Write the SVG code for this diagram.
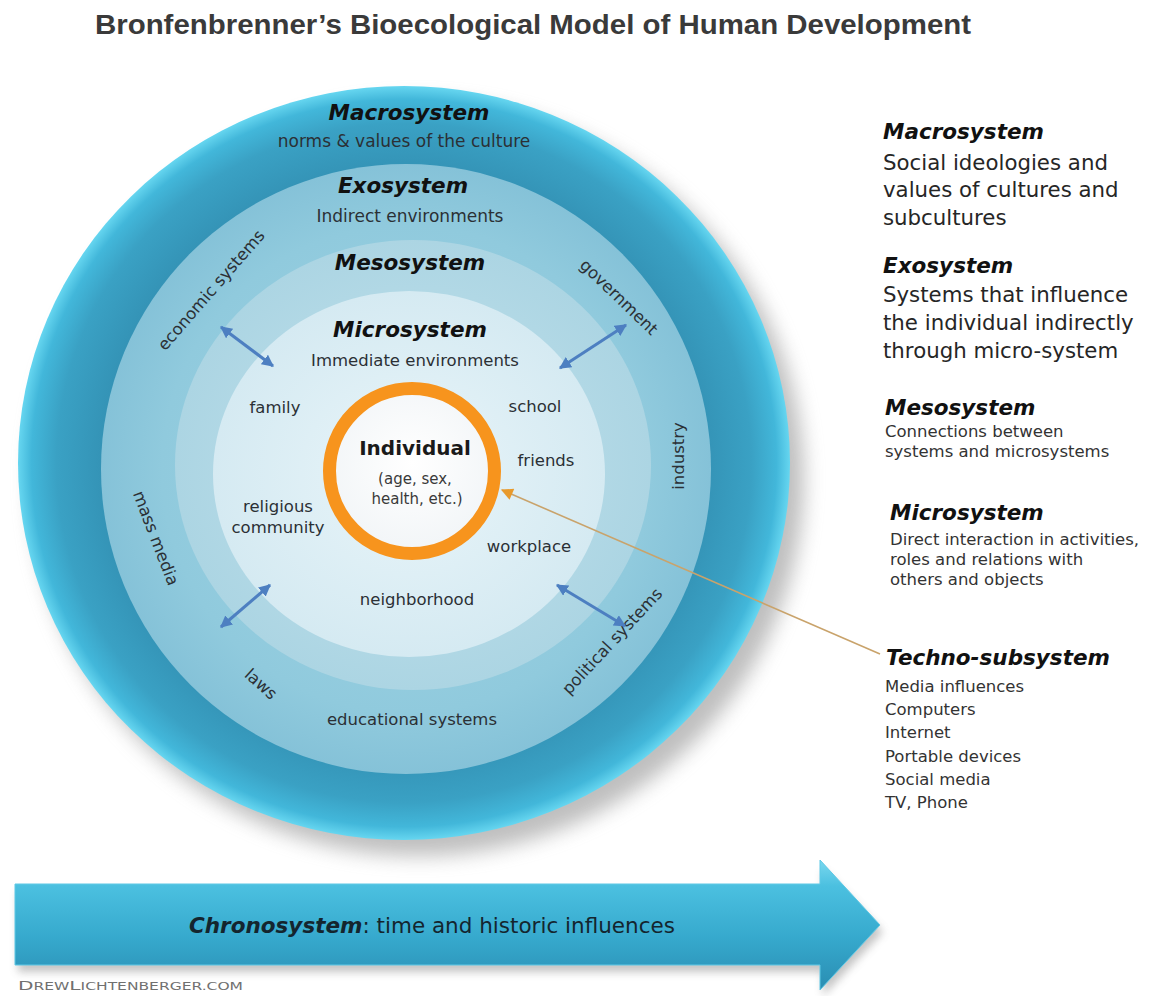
<svg xmlns="http://www.w3.org/2000/svg" width="1149" height="996" viewBox="0 0 1149 996">
  <defs>
    <style>
      .sans { font-family: "DejaVu Sans", Verdana, sans-serif; }
      .head { font-family: "DejaVu Sans", Verdana, sans-serif; font-weight: bold; font-style: italic; font-size: 21.5px; fill: #111; }
      .ring-label { font-family: "DejaVu Sans", Verdana, sans-serif; font-size: 16.5px; fill: #2b3035; text-anchor: middle; }
      .big { font-family: "DejaVu Sans", Verdana, sans-serif; font-size: 21.3px; fill: #262626; }
      .small { font-family: "DejaVu Sans", Verdana, sans-serif; font-size: 16.5px; fill: #333; }
      .mid { text-anchor: middle; }
      .link { stroke: #4d7fc1; stroke-width: 3; fill: none; marker-start: url(#headBlue); marker-end: url(#headBlue); }
    </style>
    <radialGradient id="gMacro" cx="0.5" cy="0.5" r="0.5">
      <stop offset="0.78" stop-color="#3493b6"/>
      <stop offset="0.9" stop-color="#3aa1c4"/>
      <stop offset="0.965" stop-color="#42b7da"/>
      <stop offset="1" stop-color="#66d6f0"/>
    </radialGradient>
    <radialGradient id="gExo" cx="0.5" cy="0.5" r="0.5">
      <stop offset="0" stop-color="#a3d6e5"/>
      <stop offset="0.8" stop-color="#90cadd"/>
      <stop offset="1" stop-color="#85c2d8"/>
    </radialGradient>
    <radialGradient id="gMeso" cx="0.5" cy="0.5" r="0.5">
      <stop offset="0" stop-color="#c4e3ed"/>
      <stop offset="1" stop-color="#acd5e3"/>
    </radialGradient>
    <radialGradient id="gMicro" cx="0.5" cy="0.5" r="0.5">
      <stop offset="0" stop-color="#e9f5f9"/>
      <stop offset="1" stop-color="#d5eaf2"/>
    </radialGradient>
    <radialGradient id="gCore" cx="0.5" cy="0.45" r="0.5">
      <stop offset="0" stop-color="#ffffff"/>
      <stop offset="1" stop-color="#f3f6f8"/>
    </radialGradient>
    <linearGradient id="gChrono" x1="0" y1="0" x2="0" y2="1">
      <stop offset="0" stop-color="#7ad8ef"/>
      <stop offset="0.2" stop-color="#4bc0e0"/>
      <stop offset="0.6" stop-color="#36a9cd"/>
      <stop offset="1" stop-color="#2a8db2"/>
    </linearGradient>
    <filter id="blur10" x="-20%" y="-20%" width="140%" height="140%">
      <feGaussianBlur stdDeviation="10"/>
    </filter>
    <filter id="blur4" x="-10%" y="-50%" width="120%" height="200%">
      <feGaussianBlur stdDeviation="4"/>
    </filter>
    <marker id="headBlue" viewBox="0 0 10 10" refX="9" refY="5" markerWidth="4" markerHeight="4" orient="auto-start-reverse">
      <path d="M0,0 L10,5 L0,10 z" fill="#4d7fc1"/>
    </marker>
    <marker id="headOrange" viewBox="0 0 10 10" refX="9" refY="5" markerUnits="userSpaceOnUse" markerWidth="13" markerHeight="12" orient="auto">
      <path d="M0,0 L10,5 L0,10 z" fill="#e89a2c"/>
    </marker>
  </defs>

  <rect width="1149" height="996" fill="#ffffff"/>

  <!-- title -->
  <text id="title" x="95" y="34" font-family="'Liberation Sans', Arial, sans-serif" font-weight="bold" font-size="27" fill="#3a3a3a" textLength="876" lengthAdjust="spacingAndGlyphs">Bronfenbrenner’s Bioecological Model of Human Development</text>

  <!-- nested system discs -->
  <g id="shadow">
    <ellipse cx="418" cy="479" rx="386" ry="377" fill="#8a8a8a" opacity="0.55" filter="url(#blur10)"/>
  </g>
  <g id="macrosystem">
    <ellipse cx="404" cy="463" rx="386" ry="377" fill="url(#gMacro)"/>
    <text class="head mid" x="409" y="120">Macrosystem</text>
    <text class="sans mid" x="404" y="147" font-size="17" fill="#2b3035">norms &amp; values of the culture</text>
  </g>
  <g id="exosystem">
    <circle cx="406" cy="469" r="305" fill="url(#gExo)"/>
    <text class="head mid" x="403" y="193">Exosystem</text>
    <text class="sans mid" x="410" y="222" font-size="17" fill="#2b3035">Indirect environments</text>
    <text class="ring-label" transform="translate(211,290) rotate(-49)" dy="0.35em">economic systems</text>
    <text class="ring-label" transform="translate(619,297) rotate(44)" dy="0.35em">government</text>
    <text class="ring-label" transform="translate(678,456) rotate(-90)" dy="0.35em">industry</text>
    <text class="ring-label" transform="translate(156,538) rotate(69)" dy="0.35em" font-size="17.5">mass media</text>
    <text class="ring-label" transform="translate(261,684) rotate(42)" dy="0.35em">laws</text>
    <text class="ring-label" transform="translate(612,641) rotate(-47)" dy="0.35em">political systems</text>
    <text class="ring-label" x="412" y="725">educational systems</text>
  </g>
  <g id="mesosystem">
    <ellipse cx="413" cy="465" rx="238" ry="225" fill="url(#gMeso)"/>
    <text class="head mid" x="410" y="270">Mesosystem</text>
  </g>
  <g id="microsystem">
    <ellipse cx="409" cy="474" rx="196" ry="183" fill="url(#gMicro)"/>
    <text class="head mid" x="410" y="337">Microsystem</text>
    <text class="sans mid" x="415" y="366" font-size="16.5" fill="#2b3035">Immediate environments</text>
    <text class="ring-label" x="275" y="413">family</text>
    <text class="ring-label" x="535" y="412">school</text>
    <text class="ring-label" x="546" y="466">friends</text>
    <text class="ring-label" x="278" y="512">religious</text>
    <text class="ring-label" x="278" y="533">community</text>
    <text class="ring-label" x="529" y="552">workplace</text>
    <text class="ring-label" x="417" y="605">neighborhood</text>
  </g>
  <g id="individual">
    <circle cx="412" cy="471" r="82.5" fill="url(#gCore)" stroke="#f7941d" stroke-width="13"/>
    <text class="sans mid" x="415" y="455" font-size="20" font-weight="bold" fill="#1a1a1a">Individual</text>
    <text class="sans mid" x="415" y="484" font-size="15" fill="#3a3a3a">(age, sex,</text>
    <text class="sans mid" x="417" y="504" font-size="15" fill="#3a3a3a">health, etc.)</text>
  </g>

  <!-- connectors -->
  <g id="connectors">
    <line class="link" x1="221" y1="327" x2="273" y2="366"/>
    <line class="link" x1="560" y1="368" x2="626" y2="325"/>
    <line class="link" x1="221" y1="627" x2="270" y2="585"/>
    <line class="link" x1="557" y1="585" x2="625" y2="626"/>
    <line x1="880" y1="654" x2="502" y2="490" stroke="#c9a36b" stroke-width="1.6" marker-end="url(#headOrange)"/>
  </g>

  <!-- legend -->
  <g id="legend-macro">
    <text class="head" x="883" y="139">Macrosystem</text>
    <text class="big" x="883" y="170">Social ideologies and</text>
    <text class="big" x="883" y="197">values of cultures and</text>
    <text class="big" x="883" y="225">subcultures</text>
  </g>
  <g id="legend-exo">
    <text class="head" x="883" y="273">Exosystem</text>
    <text class="big" x="883" y="302">Systems that influence</text>
    <text class="big" x="883" y="330">the individual indirectly</text>
    <text class="big" x="883" y="358">through micro-system</text>
  </g>
  <g id="legend-meso">
    <text class="head" x="885" y="415">Mesosystem</text>
    <text class="small" x="885" y="437">Connections between</text>
    <text class="small" x="885" y="457">systems and microsystems</text>
  </g>
  <g id="legend-micro">
    <text class="head" x="890" y="520">Microsystem</text>
    <text class="small" x="890" y="545">Direct interaction in activities,</text>
    <text class="small" x="890" y="565">roles and relations with</text>
    <text class="small" x="890" y="585">others and objects</text>
  </g>
  <g id="legend-techno">
    <text class="head" x="886" y="665">Techno-subsystem</text>
    <text class="small" x="885" y="692">Media influences</text>
    <text class="small" x="885" y="715">Computers</text>
    <text class="small" x="885" y="738">Internet</text>
    <text class="small" x="885" y="762">Portable devices</text>
    <text class="small" x="885" y="785">Social media</text>
    <text class="small" x="885" y="808">TV, Phone</text>
  </g>

  <!-- time arrow -->
  <g id="chronosystem">
    <path d="M18,892 L823,892 L823,870 L883,932 L823,996 L823,972 L18,972 Z" fill="#7d7d7d" opacity="0.45" filter="url(#blur4)"/>
    <path d="M15,884 L820,884 L820,860 L880,925 L820,990 L820,965 L15,965 Z" fill="url(#gChrono)" stroke="#5fc9e6" stroke-width="1"/>
    <text class="sans mid" x="432" y="933" font-size="21.5" fill="#14252e"><tspan font-weight="bold" font-style="italic">Chronosystem</tspan>: time and historic influences</text>
  </g>

  <text id="credit" x="18" y="990" font-family="'DejaVu Sans', Verdana, sans-serif" fill="#707070" textLength="225" lengthAdjust="spacingAndGlyphs"><tspan font-size="13">D</tspan><tspan font-size="10">REW</tspan><tspan font-size="13">L</tspan><tspan font-size="10">ICHTENBERGER.COM</tspan></text>
</svg>
